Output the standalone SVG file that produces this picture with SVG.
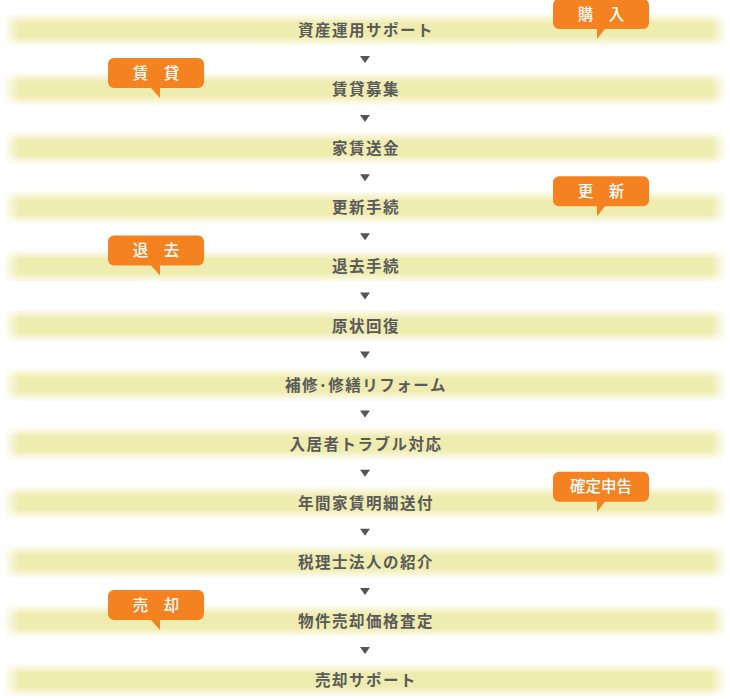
<svg xmlns="http://www.w3.org/2000/svg" width="730" height="699" viewBox="0 0 730 699">
<defs>
<linearGradient id="vfade" x1="0" y1="0" x2="0" y2="1">
<stop offset="0" stop-color="#efecb0" stop-opacity="0"/>
<stop offset="0.3" stop-color="#efecb0" stop-opacity="1"/>
<stop offset="0.7" stop-color="#efecb0" stop-opacity="1"/>
<stop offset="1" stop-color="#efecb0" stop-opacity="0"/>
</linearGradient>
<linearGradient id="hfade" x1="0" y1="0" x2="1" y2="0">
<stop offset="0" stop-color="#000"/>
<stop offset="0.022" stop-color="#fff"/>
<stop offset="0.978" stop-color="#fff"/>
<stop offset="1" stop-color="#000"/>
</linearGradient>
<mask id="hmask" maskUnits="userSpaceOnUse" x="0" y="-30" width="730" height="60">
<rect x="3" y="-30" width="724" height="60" fill="url(#hfade)"/>
</mask>
<style>
.bar{fill:url(#vfade);mask:url(#hmask)}
.lbl{font-family:"Noto Sans CJK JP","Noto Sans",sans-serif;font-size:15.5px;font-weight:bold;fill:#5a5a5a;text-anchor:middle;letter-spacing:1.5px}
.arr{fill:#555}
.co{fill:#f58220}
.ct{font-family:"Noto Sans CJK JP","Noto Sans",sans-serif;font-size:15.5px;font-weight:500;fill:#fff;text-anchor:middle}
</style>
</defs>
<rect width="730" height="699" fill="#fff"/>
<g id="step1" transform="translate(0,30)"><rect class="bar" x="3" y="-17" width="724" height="34"/><text class="lbl" x="366" y="6">資産運用サポート</text></g>
<g id="step2" transform="translate(0,89.1)"><rect class="bar" x="3" y="-17" width="724" height="34"/><text class="lbl" x="366" y="6">賃貸募集</text></g>
<g id="step3" transform="translate(0,148.2)"><rect class="bar" x="3" y="-17" width="724" height="34"/><text class="lbl" x="366" y="6">家賃送金</text></g>
<g id="step4" transform="translate(0,207.3)"><rect class="bar" x="3" y="-17" width="724" height="34"/><text class="lbl" x="366" y="6">更新手続</text></g>
<g id="step5" transform="translate(0,266.4)"><rect class="bar" x="3" y="-17" width="724" height="34"/><text class="lbl" x="366" y="6">退去手続</text></g>
<g id="step6" transform="translate(0,325.5)"><rect class="bar" x="3" y="-17" width="724" height="34"/><text class="lbl" x="366" y="6">原状回復</text></g>
<g id="step7" transform="translate(0,384.6)"><rect class="bar" x="3" y="-17" width="724" height="34"/><text class="lbl" x="366" y="6">補修･修繕リフォーム</text></g>
<g id="step8" transform="translate(0,443.7)"><rect class="bar" x="3" y="-17" width="724" height="34"/><text class="lbl" x="366" y="6">入居者トラブル対応</text></g>
<g id="step9" transform="translate(0,502.8)"><rect class="bar" x="3" y="-17" width="724" height="34"/><text class="lbl" x="366" y="6">年間家賃明細送付</text></g>
<g id="step10" transform="translate(0,561.9)"><rect class="bar" x="3" y="-17" width="724" height="34"/><text class="lbl" x="366" y="6">税理士法人の紹介</text></g>
<g id="step11" transform="translate(0,621)"><rect class="bar" x="3" y="-17" width="724" height="34"/><text class="lbl" x="366" y="6">物件売却価格査定</text></g>
<g id="step12" transform="translate(0,680.1)"><rect class="bar" x="3" y="-17" width="724" height="34"/><text class="lbl" x="366" y="6">売却サポート</text></g>
<g id="connectors">
<path class="arr" transform="translate(0,59.5)" d="M360,-3.5H370L365,3.5Z"/>
<path class="arr" transform="translate(0,118.6)" d="M360,-3.5H370L365,3.5Z"/>
<path class="arr" transform="translate(0,177.7)" d="M360,-3.5H370L365,3.5Z"/>
<path class="arr" transform="translate(0,236.8)" d="M360,-3.5H370L365,3.5Z"/>
<path class="arr" transform="translate(0,295.9)" d="M360,-3.5H370L365,3.5Z"/>
<path class="arr" transform="translate(0,355)" d="M360,-3.5H370L365,3.5Z"/>
<path class="arr" transform="translate(0,414.1)" d="M360,-3.5H370L365,3.5Z"/>
<path class="arr" transform="translate(0,473.2)" d="M360,-3.5H370L365,3.5Z"/>
<path class="arr" transform="translate(0,532.3)" d="M360,-3.5H370L365,3.5Z"/>
<path class="arr" transform="translate(0,591.4)" d="M360,-3.5H370L365,3.5Z"/>
<path class="arr" transform="translate(0,650.5)" d="M360,-3.5H370L365,3.5Z"/>
</g>
<g id="tag-kounyu" transform="translate(553,-1)"><path class="co" d="M6,0H90A6,6 0 0 1 96,6V24A6,6 0 0 1 90,30H52L44,40V30H6A6,6 0 0 1 0,24V6A6,6 0 0 1 6,0Z"/><text class="ct" x="48" y="20.5">購　入</text></g>
<g id="tag-chintai" transform="translate(108,58.1)"><path class="co" d="M6,0H90A6,6 0 0 1 96,6V24A6,6 0 0 1 90,30H52V40L43,30H6A6,6 0 0 1 0,24V6A6,6 0 0 1 6,0Z"/><text class="ct" x="48" y="20.5">賃　貸</text></g>
<g id="tag-koushin" transform="translate(553,176.3)"><path class="co" d="M6,0H90A6,6 0 0 1 96,6V24A6,6 0 0 1 90,30H52L44,40V30H6A6,6 0 0 1 0,24V6A6,6 0 0 1 6,0Z"/><text class="ct" x="48" y="20.5">更　新</text></g>
<g id="tag-taikyo" transform="translate(108,235.4)"><path class="co" d="M6,0H90A6,6 0 0 1 96,6V24A6,6 0 0 1 90,30H52V40L43,30H6A6,6 0 0 1 0,24V6A6,6 0 0 1 6,0Z"/><text class="ct" x="48" y="20.5">退　去</text></g>
<g id="tag-kakutei" transform="translate(553,471.8)"><path class="co" d="M6,0H90A6,6 0 0 1 96,6V24A6,6 0 0 1 90,30H52L44,40V30H6A6,6 0 0 1 0,24V6A6,6 0 0 1 6,0Z"/><text class="ct" x="48" y="20.5">確定申告</text></g>
<g id="tag-baikyaku" transform="translate(108,590)"><path class="co" d="M6,0H90A6,6 0 0 1 96,6V24A6,6 0 0 1 90,30H52V40L43,30H6A6,6 0 0 1 0,24V6A6,6 0 0 1 6,0Z"/><text class="ct" x="48" y="20.5">売　却</text></g>
</svg>
